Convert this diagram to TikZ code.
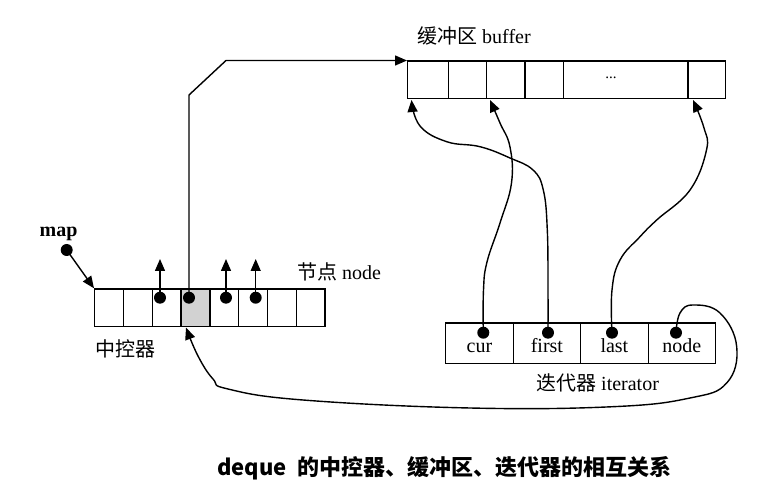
\documentclass[tikz,border=0pt]{standalone}
\usepackage{fontspec}
\setmainfont{Liberation Serif}
\newfontfamily\cjk{Noto Sans CJK SC}
\usetikzlibrary{arrows.meta}
\tikzset{
    cell/.style={draw, line width=1.3pt, inner sep=0pt, anchor=north west},
    mapcell/.style={cell, minimum width=28.8pt, minimum height=37.5pt},
    bufcell/.style={cell, minimum height=37.5pt},
    itcell/.style={cell, minimum width=67.5pt, minimum height=40.4pt, text height=18pt, text depth=0pt},
    blob/.style={circle, fill=black, inner sep=0pt, minimum size=12pt},
    ptr/.style={line width=1.4pt, -{Triangle[length=12pt, width=10pt]}},
    label/.style={inner sep=0pt, anchor=west}
}

\begin{document}
\begin{tikzpicture}[x=1pt, y=-1pt, font=\fontsize{20}{24}\selectfont]
            \useasboundingbox (0,0) rectangle (782,494);
            % buffer
            \foreach \n/\x/\w in {0/407/40.7, 1/447.7/38, 2/485.7/38.6, 3/524.3/38.4, 4/562.7/124.6, 5/687.3/37.7}
                \node[bufcell, minimum width=\w pt] (b\n) at (\x,60.5) {};
            \node[font=\fontsize{15}{15}\selectfont] (gap) at (611,78) {...};
            \node[label] (buflabel) at (417,35.5) {{\cjk 缓冲区} buffer};
            % map
            \foreach \i/\c in {0/white, 1/white, 2/white, 3/gray!35, 4/white, 5/white, 6/white, 7/white}
                \node[mapcell, fill=\c] (m\i) at ({94+28.8*\i},288.3) {};
            \node[label] (nodelabel) at (297,271.5) {{\cjk 节点} node};
            \node[label] (ctrllabel) at (95,349) {\cjk 中控器};
            \node[font=\fontsize{20}{24}\selectfont\bfseries] (maplabel) at (58.5,234) {map};
            \node[blob] (dmap) at (66.7,250) {};
            \draw[ptr] (dmap.center) -- (m0.north west);
            % node pointers
            \node[blob] (dm2) at (160,297.7) {};
            \node[blob] (dm3) at (189,297.7) {};
            \node[blob] (dm4) at (226,297.7) {};
            \node[blob] (dm5) at (255.7,297.7) {};
            \coordinate (um2) at (160,259);
            \coordinate (um4) at (226,259);
            \coordinate (um5) at (255.7,259);
            \draw[ptr] (dm2.center) -- (um2);
            \draw[ptr] (dm4.center) -- (um4);
            \draw[ptr] (dm5.center) -- (um5);
            \draw[ptr] (dm3.center) -- (189,95) -- (226,60.5) -- (b0.north west);
            % iterator
            \foreach \n/\t in {0/cur, 1/first, 2/last, 3/node}
                \node[itcell] (i\n) at ({445+67.5*\n},322.3) {\t};
            \node[label] (itlabel) at (536,383) {{\cjk 迭代器} iterator};
            \node[blob] (dcur) at (483.3,332.7) {};
            \node[blob] (dfirst) at (548,332.7) {};
            \node[blob] (dlast) at (612,332.7) {};
            \node[blob] (dnode) at (676,332.7) {};
            \coordinate (tcur) at (490,100);
            \coordinate (tfirst) at (411.5,100);
            \coordinate (tlast) at (693,100);
            \coordinate (tnode) at (186,327.5);
            \draw[ptr] plot[smooth, tension=0.7] coordinates {(dcur.center) (483.5,290) (487,262) (500,223) (511.5,183) (510,147) (500,123) (tcur)};
            \draw[ptr] plot[smooth, tension=0.7] coordinates {(dfirst.center) (548,290) (547.3,230) (543.3,190) (533,170) (510,158) (480,146.7) (446.7,141.7) (420,126) (tfirst)};
            \draw[ptr] plot[smooth, tension=0.7] coordinates {(dlast.center) (612,290) (620,260) (640,236.7) (656.7,220) (690,190) (706.5,150) (704,128) (tlast)};
            \draw[ptr] plot[smooth, tension=0.7] coordinates {(dnode.center) (680,313) (693,305) (720,313) (736.7,346.7) (726.7,383) (690,398) (613,406.7) (470,408) (303,400) (228,389) (213,379) (198,356) (tnode)};
            % caption
            \node[label, font=\fontsize{22}{26}\selectfont\cjk\bfseries] (caption) at (217,468) {deque\enspace 的中控器、缓冲区、迭代器的相互关系};
\end{tikzpicture}
\end{document}
